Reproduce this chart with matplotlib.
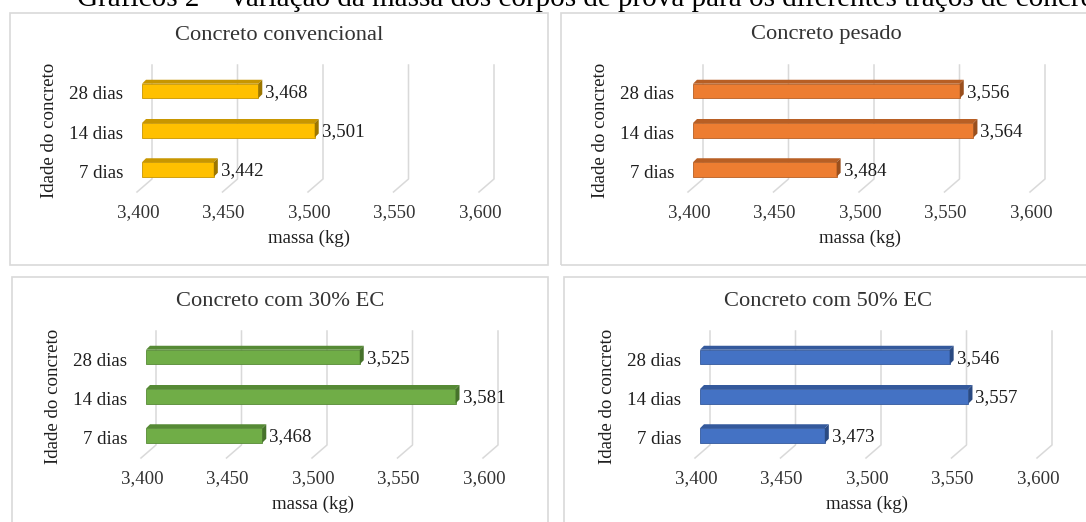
import matplotlib
matplotlib.use("Agg")
import matplotlib.pyplot as plt
from matplotlib.patches import Rectangle

plt.rcParams['font.family'] = ['Liberation Serif', 'DejaVu Serif']

# data: mass of the specimens (kg) per concrete age
idades = ['7 dias', '14 dias', '28 dias']
convencional = [3.442, 3.501, 3.468]
pesado = [3.484, 3.564, 3.556]
ec30 = [3.468, 3.581, 3.525]
ec50 = [3.473, 3.557, 3.546]
ticks = [3.40, 3.45, 3.50, 3.55, 3.60]
tick_labels = ['3,400', '3,450', '3,500', '3,550', '3,600']

W, H = 1086, 522
fig = plt.figure(figsize=(W / 100, H / 100), dpi=100)

# pixel scales of the chart area (front plane of the bars)
PX = 0.2 / 342          # data units per pixel in x
PY = 1 / 39.25          # data units per pixel in y
y_lo = -(192 - 169.5) * PY
y_hi = 2 + (91 - 65) * PY
y_wall = -(179 - 169.5) * PY
bar_h = 14.5 * PY
dep_x, dep_y = 4 * PX, 4 * PY

GRID = '#D9D9D9'
TXT = '#1E1E1E'
TCK = '#333333'
FS = 13.6


def fig_xy(x, y):
    return x / W, 1 - y / H


def panel(ox, oy, box, titulo, valores, cor, topo, lado):
    # outer frame
    bx0, by0, bx1, by1 = box
    x0, y0 = fig_xy(bx0, by1)
    fig.add_artist(Rectangle((x0, y0), (bx1 - bx0) / W, (by1 - by0) / H,
                             transform=fig.transFigure, fill=False,
                             edgecolor=GRID, lw=1.2))
    cx, cy = fig_xy((bx0 + bx1) / 2, 35 + oy)
    fig.text(cx, cy, titulo, ha='center', va='center', fontsize=16.2, color=TCK)

    l, t = 142 + ox, 65 + oy
    r, b = 484 + ox, 192 + oy
    ax = fig.add_axes([l / W, 1 - b / H, (r - l) / W, (b - t) / H])
    ax.set_xlim(3.4, 3.6)
    ax.set_ylim(y_lo, y_hi)
    ax.axis('off')

    # back wall gridlines with the floor going forward
    for v, lab in zip(ticks, tick_labels):
        ax.plot([v + 10 * PX, v + 10 * PX, v - 5 * PX], [y_hi, y_wall, y_lo],
                color=GRID, lw=1.1, clip_on=False, zorder=1)
        ax.text(v - 4 * PX, y_lo - 21 * PY, lab, ha='center', va='center',
                fontsize=FS, color=TCK, clip_on=False)

    # 3d looking bars: front face, top face and right side
    for i, (nome, v) in enumerate(zip(idades, valores)):
        ax.barh(i, v - 3.4, left=3.4, height=bar_h, color=cor,
                edgecolor=topo, lw=0.6, zorder=3)
        yt = i + bar_h / 2
        yb = i - bar_h / 2
        ax.fill([3.4, v, v + dep_x, 3.4 + dep_x], [yt, yt, yt + dep_y, yt + dep_y],
                color=topo, lw=0, zorder=3)
        ax.fill([v, v + dep_x, v + dep_x, v], [yb, yb + dep_y, yt + dep_y, yt],
                color=lado, lw=0, zorder=3)
        ax.text(v + dep_x + 3 * PX, i - 1.5 * PY, f'{v:.3f}'.replace('.', ','),
                ha='left', va='center', fontsize=FS, color=TXT, clip_on=False)
        ax.text(3.4 - 19 * PX, i - 4 * PY, nome, ha='right', va='center',
                fontsize=FS, color=TXT, clip_on=False)

    ax.text(3.5 - 4 * PX, y_lo - 46 * PY, 'massa (kg)', ha='center', va='center',
            fontsize=FS, color=TXT, clip_on=False)
    ax.text(3.4 - 92 * PX, (169.5 - 130) * PY, 'Idade do concreto', rotation=90,
            ha='center', va='center', fontsize=FS, color=TXT, clip_on=False)


panel(0, 0, (10, 13, 548, 265), 'Concreto convencional', convencional,
      '#FFC000', '#C89600', '#9C7600')
panel(551, 0, (561, 13, 1092, 265), 'Concreto pesado', pesado,
      '#ED7D31', '#B85F24', '#9A4F1D')
panel(4, 266, (12, 277, 548, 530), 'Concreto com 30% EC', ec30,
      '#70AD47', '#568A35', '#46722B')
panel(558, 266, (564, 277, 1092, 530), 'Concreto com 50% EC', ec50,
      '#4472C4', '#34599C', '#2A4A82')

fig.text(77 / W, 1 - 6 / H,
         'Gráficos 2 – Variação da massa dos corpos de prova para os diferentes traços de concreto',
         ha='left', va='baseline', fontsize=21, color='black')

fig.savefig('out.png', dpi=100)
